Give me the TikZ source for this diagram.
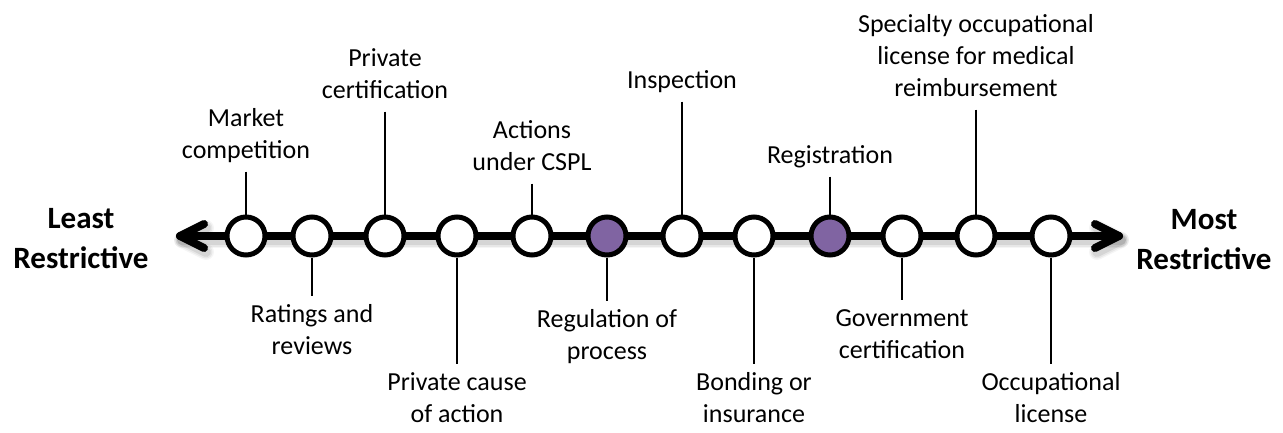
\documentclass[tikz,border=0pt]{standalone}
\usepackage{fontspec}
\setmainfont{Carlito}
\definecolor{purp}{RGB}{128,100,162}
\begin{document}
\begin{tikzpicture}[x=1pt,y=-1pt,
  dot/.style={circle,draw=black,line width=5pt,fill=white,minimum size=38pt,inner sep=0pt},
  pdot/.style={dot,fill=purp},
  lab/.style={font=\fontsize{26}{32}\selectfont,align=center,inner sep=0pt},
  big/.style={font=\fontsize{31}{40}\selectfont\bfseries,align=center,inner sep=0pt},
  tick/.style={line width=2pt},
  axis/.style={line width=8pt,line cap=round,line join=round},
  shade/.style={line cap=round,line join=round,black}]
\useasboundingbox (0,0) rectangle (1283,432);
% axis coordinates
\coordinate (tipL) at (180,236);
\coordinate (tipR) at (1119,236);
\coordinate (aL1) at (204,224);
\coordinate (aL2) at (204,248);
\coordinate (aR1) at (1095,224);
\coordinate (aR2) at (1095,248);
% soft shadow
\begin{scope}[transform canvas={shift={(2pt,-4pt)}}]
\foreach \w/\o in {16/0.04,13/0.06,10/0.08}{
  \draw[shade,line width=\w pt,opacity=\o] (tipL) -- (tipR);
  \draw[shade,line width=\w pt,opacity=\o] (aL1) -- (tipL) -- (aL2);
  \draw[shade,line width=\w pt,opacity=\o] (aR1) -- (tipR) -- (aR2);
}
\end{scope}
% axis
\draw[axis] (tipL) -- (tipR);
\draw[axis] (aL1) -- (tipL) -- (aL2);
\draw[axis] (aR1) -- (tipR) -- (aR2);
% circles
\node[dot]  (c1)  at (246,236) {};
\node[dot]  (c2)  at (312,236) {};
\node[dot]  (c3)  at (385,236) {};
\node[dot]  (c4)  at (457,236) {};
\node[dot]  (c5)  at (532,236) {};
\node[pdot] (c6)  at (607,236) {};
\node[dot]  (c7)  at (682,236) {};
\node[dot]  (c8)  at (754,236) {};
\node[pdot] (c9)  at (830,236) {};
\node[dot]  (c10) at (902,236) {};
\node[dot]  (c11) at (976,236) {};
\node[dot]  (c12) at (1051,236) {};
% end labels
\node[big,anchor=north] (least) at (81,200.5) {Least\strut\\Restrictive};
\node[big,anchor=north] (most) at (1204,201) {Most\strut\\Restrictive};
% top labels
\node[lab,anchor=south] (l1)  at (246,168.6) {Market\strut\\competition\strut};
\node[lab,anchor=south] (l3)  at (385,108.6) {Private\strut\\certification\strut};
\node[lab,anchor=south] (l5)  at (532,180.6) {Actions\strut\\under CSPL\strut};
\node[lab,anchor=south] (l7)  at (682,98.6) {Inspection\strut};
\node[lab,anchor=south] (l9)  at (830,173.6) {Registration\strut};
\node[lab,anchor=south] (l11) at (976,106.6) {Specialty occupational\strut\\license for medical\strut\\reimbursement\strut};
% bottom labels
\node[lab,anchor=north] (l2)  at (312,299.6) {Ratings and\strut\\reviews};
\node[lab,anchor=north] (l4)  at (457,368) {Private cause\strut\\of action};
\node[lab,anchor=north] (l6)  at (607,304.6) {Regulation of\strut\\process};
\node[lab,anchor=north] (l8)  at (754,368) {Bonding or\strut\\insurance};
\node[lab,anchor=north] (l10) at (902,303.6) {Government\strut\\certification};
\node[lab,anchor=north] (l12) at (1051,368) {Occupational\strut\\license};
% ticks
\foreach \i in {1,3,5,7,9,11}{
  \draw[tick,shorten <=3pt] (l\i.south) -- (c\i.north);
}
\foreach \i in {2,4,6,8,10,12}{
  \draw[tick,shorten >=4pt] (c\i.south) -- (l\i.north);
}
\end{tikzpicture}
\end{document}
